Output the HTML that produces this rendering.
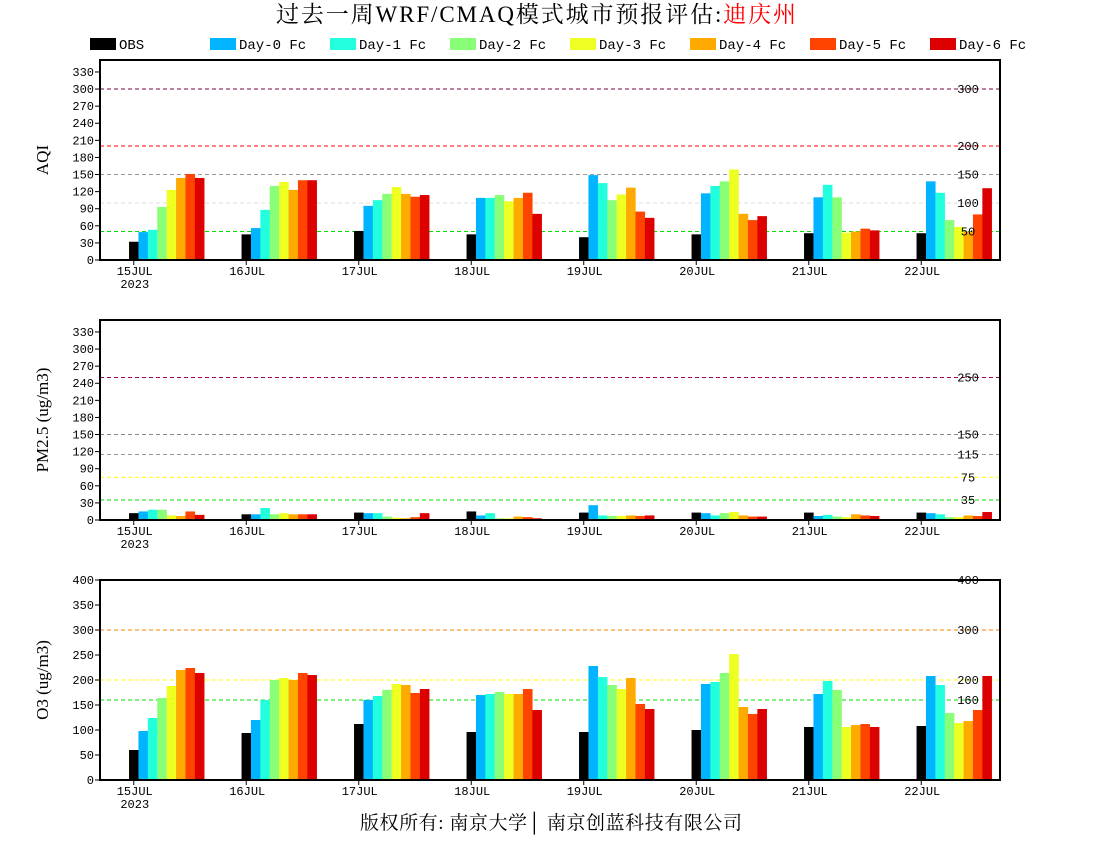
<!DOCTYPE html>
<html><head><meta charset="utf-8"><style>
body{margin:0;background:#fff;}
svg{display:block;font-family:"Liberation Mono","DejaVu Sans Mono",monospace;}
</style></head><body>
<svg id="c" width="1100" height="850" xmlns="http://www.w3.org/2000/svg">
<text x="536" y="22" text-anchor="middle" font-size="23" textLength="520" font-family="Liberation Serif, Noto Serif CJK SC, serif">过去一周WRF/CMAQ模式城市预报评估:<tspan fill="#ff0000">迪庆州</tspan></text>
<text x="551" y="829" text-anchor="middle" font-size="19" textLength="382" font-family="Liberation Serif, Noto Serif CJK SC, serif">版权所有: 南京大学│ 南京创蓝科技有限公司</text>
<g id="legend"></g>
</svg>
<script>
const dates = ["15JUL","16JUL","17JUL","18JUL","19JUL","20JUL","21JUL","22JUL"];
const seriesNames = ["OBS","Day-0 Fc","Day-1 Fc","Day-2 Fc","Day-3 Fc","Day-4 Fc","Day-5 Fc","Day-6 Fc"];
const colors = ["#000000","#00b4ff","#22ffdd","#88ff77","#eeff22","#ffaa00","#ff4400","#dd0000"];
const aqiValues = [
 [32,49,53,93,123,144,151,144],
 [45,56,88,130,137,123,140,140],
 [51,95,105,116,128,116,111,114],
 [45,109,109,114,103,109,118,81],
 [40,149,135,105,115,127,85,74],
 [45,117,130,138,159,81,70,77],
 [47,110,132,110,48,50,55,52],
 [47,138,118,70,58,50,80,126]];
const pm25Values = [
 [12,15,18,18,8,7,15,9],
 [10,10,21,10,12,10,10,10],
 [13,12,12,6,4,3,5,12],
 [15,8,12,3,3,6,5,3],
 [13,26,8,7,7,8,7,8],
 [13,12,8,12,14,8,6,6],
 [13,7,9,6,5,10,8,7],
 [13,12,10,5,5,8,7,14]];
const o3Values = [
 [60,98,124,164,188,220,224,214],
 [94,120,160,200,204,200,214,210],
 [112,160,168,180,192,190,174,182],
 [96,170,172,176,172,172,182,140],
 [96,228,206,190,182,204,152,142],
 [100,192,196,214,252,146,132,142],
 [106,172,198,180,106,110,112,106],
 [108,208,190,134,114,118,140,208]];
const aqiTicks = [0,30,60,90,120,150,180,210,240,270,300,330];
const pmTicks = [0,30,60,90,120,150,180,210,240,270,300,330];
const o3Ticks = [0,50,100,150,200,250,300,350,400];
const aqiLines = [[300,"#800040","300"],[200,"#ff0000","200"],[150,"#999999","150"],[100,"#dddddd","100"],[50,"#00dd00","50"]];
const pmLines = [[250,"#a00050","250"],[150,"#888888","150"],[115,"#999999","115"],[75,"#ffff00","75"],[35,"#00dd00","35"]];
const o3Lines = [[400,"#ff0000","400"],[300,"#ff8000","300"],[200,"#ffff00","200"],[160,"#00dd00","160"]];

const NS="http://www.w3.org/2000/svg";
const svg=document.getElementById('c');
function mk(tag,attrs,parent){const e=document.createElementNS(NS,tag);for(const k in attrs)e.setAttribute(k,attrs[k]);(parent||svg).appendChild(e);return e;}

const lg=document.getElementById('legend');
seriesNames.forEach((n,i)=>{
  const x=i===0?90:210+(i-1)*120;
  const r=mk('rect',{x:x,y:38,width:26,height:12,fill:colors[i]},lg);
  
  
  const t=mk('text',{x:x+29,y:49,'font-size':14},lg);
  
  
  t.textContent=n;
});

const L=100,R=1000;
function xDay(i){return L+(i+0.3)*112.5;}
function panel(name,top,bottom,ymax,ticks,lines,values,title){
  const g=mk('g',{});
  
  
  const y=v=>bottom-(v/ymax)*(bottom-top);
  lines.forEach(l=>{
    const ln=mk('line',{x1:L,x2:R,y1:y(l[0]),y2:y(l[0]),stroke:l[1],'stroke-width':1,'stroke-dasharray':'4,3'},g);
    
    
  });
  const bw=9.4;
  values.forEach((day,i)=>{
    day.forEach((v,s)=>{
      const x0=xDay(i)-bw/2+s*bw;
      const b=mk('rect',{x:x0,y:y(v),width:bw+0.2,height:bottom-y(v),fill:colors[s]},g);
      
      
    });
  });
  lines.forEach(l=>{
    const t=mk('text',{x:968,y:y(l[0])+4,'font-size':12,'text-anchor':'middle'},g);
    
    
    t.textContent=l[2];
  });
  ticks.forEach(t=>{
    mk('line',{x1:L-5,x2:L,y1:y(t),y2:y(t),stroke:'#000','stroke-width':1},g);
    const tx=mk('text',{x:L-6,y:y(t)+4,'font-size':12,'text-anchor':'end'},g);
    
    
    tx.textContent=t;
  });
  dates.forEach((d,i)=>{
    const x=xDay(i);
    mk('line',{x1:x,x2:x,y1:bottom,y2:bottom+5,stroke:'#000'},g);
    const tx=mk('text',{x:x+1,y:bottom+15,'font-size':12,'text-anchor':'middle'},g);
    
    
    tx.textContent=d;
  });
  const yr=mk('text',{x:xDay(0)+1,y:bottom+28,'font-size':12,'text-anchor':'middle'},g);
  
  
  yr.textContent='2023';
  const fr=mk('rect',{x:L,y:top,width:R-L,height:bottom-top,fill:'none',stroke:'#000','stroke-width':2},g);
  
  
  const cy=(top+bottom)/2;
  const at=mk('text',{x:48,y:cy,'font-size':17,'text-anchor':'middle','font-family':'Liberation Serif, serif',transform:'rotate(-90 48 '+cy+')'},g);
  
  
  at.textContent=title;
}
panel('aqi',60,260,351,aqiTicks,aqiLines,aqiValues,'AQI');
panel('pm25',320,520,351,pmTicks,pmLines,pm25Values,'PM2.5 (ug/m3)');
panel('o3',580,780,400,o3Ticks,o3Lines,o3Values,'O3 (ug/m3)');
</script>
</body></html>
